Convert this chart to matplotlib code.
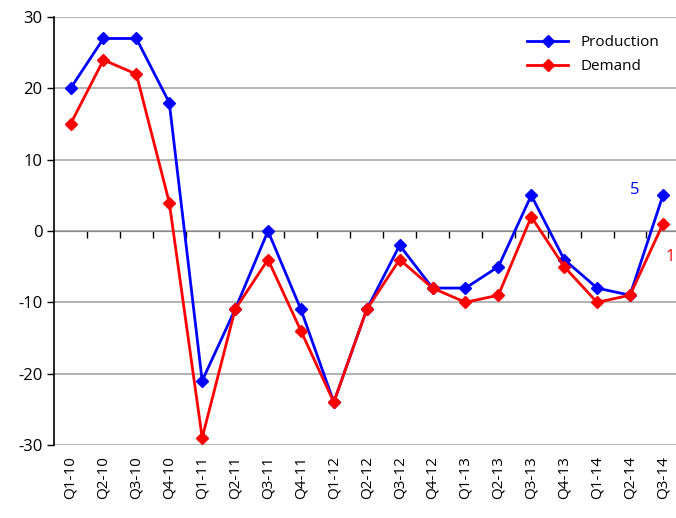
import matplotlib
matplotlib.use("Agg")
import matplotlib.pyplot as plt
import numpy as np

quarters = ["Q1-10", "Q2-10", "Q3-10", "Q4-10", "Q1-11", "Q2-11", "Q3-11", "Q4-11",
            "Q1-12", "Q2-12", "Q3-12", "Q4-12", "Q1-13", "Q2-13", "Q3-13", "Q4-13",
            "Q1-14", "Q2-14", "Q3-14"]
production = [20, 27, 27, 18, -21, -11, 0, -11, -24, -11, -2, -8, -8, -5, 5, -4, -8, -9, 5]
demand = [15, 24, 22, 4, -29, -11, -4, -14, -24, -11, -4, -8, -10, -9, 2, -5, -10, -9, 1]

plt.rcParams['font.family'] = ['Open Sans', 'DejaVu Sans']
plt.rcParams['axes.unicode_minus'] = False

fig = plt.figure(figsize=(6.76, 5.18), dpi=100)
ax = fig.add_axes([0.080, 0.141, 0.925, 0.826])

x = np.arange(len(quarters))
ax.plot(x, production, color="#0000ff", lw=2, marker="D", ms=6, label="Production", zorder=3)
ax.plot(x, demand, color="#ff0000", lw=2, marker="D", ms=6, label="Demand", zorder=3)

# end labels
ax.annotate(str(production[-1]), (x[-1], production[-1]), xytext=(-20, 4),
            textcoords="offset points", color="#0000ff", fontsize=12, ha="center", va="center")
ax.annotate(str(demand[-1]), (x[-1], demand[-1]), xytext=(5, -24),
            textcoords="offset points", color="#ff0000", fontsize=12, ha="center", va="center")

ax.set_xlim(-0.5, len(quarters) - 0.5)
ax.set_ylim(-30, 30)
ax.set_yticks(np.arange(-30, 31, 10))
ax.yaxis.grid(True, color="#a6a6a6", lw=1.2)
ax.set_axisbelow(True)

ax.set_xticks(x)
ax.set_xticklabels(quarters, rotation=90, fontsize=11)
ax.tick_params(axis="x", length=0, pad=8)
ax.tick_params(axis="y", length=5, width=1, labelsize=12, color="black")

for s in ["top", "right", "bottom"]:
    ax.spines[s].set_visible(False)
ax.spines["left"].set_linewidth(1.2)

# category axis drawn at zero with boundary ticks
sec = ax.secondary_xaxis(0.5)
sec.set_xticks(np.arange(0.5, len(quarters) - 0.5, 1))
sec.set_xticklabels([])
sec.tick_params(length=5, width=1, direction="in")
sec.spines["bottom"].set_linewidth(1.2)

ax.legend(loc="upper right", bbox_to_anchor=(0.99, 0.99), frameon=False, fontsize=11,
          handlelength=2.7, labelspacing=0.6)

fig.savefig("out.png", dpi=100)
